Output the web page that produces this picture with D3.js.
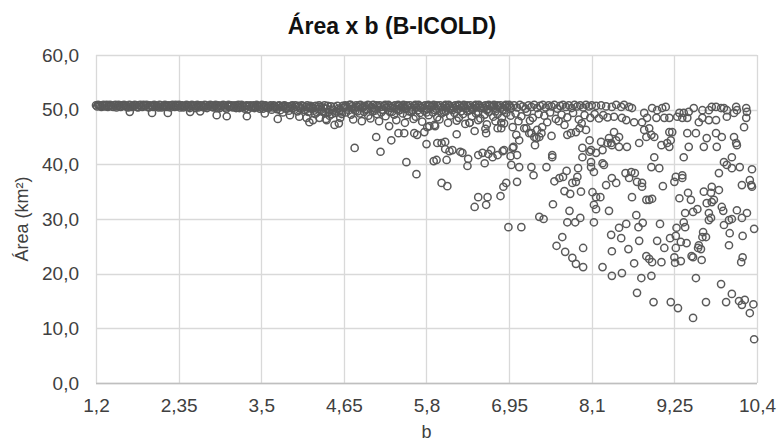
<!DOCTYPE html>
<html>
<head>
<meta charset="utf-8">
<script src="https://cdn.jsdelivr.net/npm/d3@7"></script>
<style>
  html, body { margin: 0; padding: 0; background: #ffffff; }
  svg { display: block; font-family: "Liberation Sans", Arial, sans-serif; }
</style>
</head>
<body>
<svg id="chart" width="779" height="444"></svg>
<script>
// Axis ticks and their labels (comma decimal separator)
const xTickValues = [1.2, 2.35, 3.5, 4.65, 5.8, 6.95, 8.1, 9.25, 10.4];
const xTickLabels = ["1,2", "2,35", "3,5", "4,65", "5,8", "6,95", "8,1", "9,25", "10,4"];
const yTickValues = [0, 10, 20, 30, 40, 50, 60];
const yTickLabels = ["0,0", "10,0", "20,0", "30,0", "40,0", "50,0", "60,0"];

// [b, área (km²)] — low b, area nearly constant around 50–51
const bandLowB = [
  [1.20,50.8],[1.23,50.9],[1.26,50.7],[1.29,50.8],[1.32,50.6],[1.35,50.9],[1.38,50.7],[1.41,50.8],[1.44,50.5],[1.47,50.9],
  [1.50,50.7],[1.53,50.6],[1.56,50.8],[1.59,50.9],[1.62,50.6],[1.65,50.4],[1.68,50.8],[1.71,50.7],[1.74,50.9],[1.77,50.5],
  [1.80,50.8],[1.83,50.6],[1.86,50.9],[1.89,50.7],[1.92,50.5],[1.95,50.8],[1.98,50.6],[2.01,50.9],[2.04,50.7],[2.07,50.4],
  [2.10,50.8],[2.13,50.6],[2.16,50.9],[2.19,50.5],[2.22,50.7],[2.25,50.8],[2.28,50.6],[2.31,50.9],[2.34,50.7],[2.37,50.4],
  [2.40,50.8],[2.43,50.6],[2.46,50.9],[2.49,50.5],[2.52,50.7],[2.55,50.8],[2.58,50.3],[2.61,50.9],[2.64,50.6],[2.67,50.7],
  [2.70,50.4],[2.73,50.8],[2.76,50.6],[2.79,50.9],[2.82,50.5],[2.85,50.7],[2.88,50.3],[2.91,50.8],[2.94,50.6],[2.97,50.9],
  [3.00,50.4],[3.03,50.7],[3.06,50.5],[3.09,50.8],[3.12,50.6],[3.15,50.3],[3.18,50.9],[3.21,50.5],[3.24,50.7],[3.27,50.2],
  [3.30,50.8],[3.33,50.6],[3.36,50.4],[3.39,50.8],[3.42,50.5],[3.45,50.7],[3.48,50.2],[3.51,50.9],[3.54,50.5],[3.57,50.7],
  [3.60,50.3],[3.63,50.8],[3.66,50.4],[3.69,50.6],[3.72,50.1],[3.75,50.8],[3.78,50.5],[3.81,50.7],[3.84,50.2],[3.87,50.6],
  [3.90,50.4],[3.93,50.8],[3.96,50.0],[3.99,50.5],[4.02,50.7],[4.05,50.2],[4.08,50.6],[4.11,49.9],[4.14,50.8],[4.17,50.3],
  [4.20,50.5],[4.23,49.8],[4.26,50.7],[4.29,50.1],[4.32,50.5],[4.35,49.7],[4.38,50.8],[4.41,50.2],[4.44,49.6],[4.47,50.6],
  [4.50,50.0],[4.53,49.4],[4.56,50.7],[4.59,49.9],[4.62,49.2],[4.65,50.4],
  [1.215,50.6],[1.245,50.8],[1.275,50.5],[1.305,50.9],[1.335,50.7],[1.365,50.5],[1.395,50.9],[1.425,50.6],[1.455,50.8],[1.485,50.4],
  [1.515,50.9],[1.545,50.5],[1.575,50.7],[1.605,50.8],[1.635,50.5],[1.665,50.9],[1.695,50.5],[1.725,50.6],[1.755,50.8],[1.785,50.4],
  [1.815,50.9],[1.845,50.5],[1.875,50.7],[1.905,50.9],[1.935,50.4],[1.965,50.7],[1.995,50.5],[2.025,50.8],[2.055,50.6],[2.085,50.9],
  [2.115,50.4],[2.145,50.7],[2.175,50.6],[2.205,50.8],[2.235,50.4],[2.265,50.9],[2.295,50.5],[2.325,50.6],[2.355,50.9],[2.385,50.7],
  [2.415,50.4],[2.445,50.7],[2.475,50.8],[2.505,50.3],[2.535,50.9],[2.565,50.6],[2.595,50.7],[2.625,50.4],[2.655,50.8],[2.685,50.6],
  [2.715,50.9],[2.745,50.3],[2.775,50.7],[2.805,50.8],[2.835,50.4],[2.865,50.9],[2.895,50.6],[2.925,50.3],[2.955,50.7],[2.985,50.8],
  [3.015,50.2],[3.045,50.9],[3.075,50.6],[3.105,50.4],[3.135,50.8],[3.165,50.6],[3.195,50.3],[3.225,50.9],[3.255,50.5],[3.285,50.7],
  [3.315,50.1],[3.345,50.8],[3.375,50.6],[3.405,50.3],[3.435,50.9],[3.465,50.5],[3.495,50.6],[3.525,50.2],[3.555,50.8],[3.585,50.4],
  [3.615,50.6],[3.645,50.0],[3.675,50.8],[3.705,50.4],[3.735,50.7],[3.765,49.9],[3.795,50.6],[3.825,50.8],[3.855,50.3],[3.885,49.8],
  [3.915,50.6],[3.945,50.3],[3.975,50.8],[4.005,49.7],[4.035,50.4],[4.065,50.8],[4.095,50.0],[4.125,50.5],[4.155,49.6],[4.185,50.7],
  [4.215,50.2],[4.245,50.6],[4.275,49.5],[4.305,50.8],[4.335,50.0],[4.365,50.4],[4.395,49.4],[4.425,50.7],[4.455,49.9],[4.485,49.2],
  [4.515,50.5],[4.545,49.7],[4.575,50.2],[4.605,49.5],[4.635,50.7],
  [1.67,49.6],[1.98,49.4],[2.20,49.4],[2.51,49.6],[2.65,49.7],[2.88,49.0],[3.02,48.8],[3.30,48.8],[3.55,49.3],[3.73,48.3],
  [3.80,49.5],[3.90,49.0],[4.03,48.7],[4.13,48.5],[4.17,47.7],[4.22,48.1],[4.25,49.2],[4.31,48.5],[4.40,48.3],[4.41,48.1],
  [4.45,48.9],[4.52,47.2],[4.58,47.5],[4.60,48.5]
];

// Middle b: band starts to widen
const bandMidB = [
  [4.67,50.8],[4.70,50.4],[4.73,50.9],[4.76,50.6],[4.79,50.2],[4.82,50.8],[4.85,50.5],[4.88,50.9],[4.91,50.3],[4.94,50.7],
  [4.97,50.1],[5.00,50.8],[5.03,50.5],[5.06,50.9],[5.09,50.2],[5.12,50.6],[5.15,50.8],[5.18,50.0],[5.21,50.7],[5.24,50.4],
  [5.27,50.9],[5.30,50.3],[5.33,50.6],[5.36,50.8],[5.39,50.1],[5.42,50.7],[5.45,50.4],[5.48,50.9],[5.51,50.2],[5.54,50.6],
  [5.57,50.8],[5.60,50.0],[5.63,50.7],[5.66,50.4],[5.69,50.9],[5.72,50.3],[5.75,50.6],[5.78,50.8],[5.81,50.1],[5.84,50.7],
  [5.87,50.5],[5.90,50.9],[5.93,50.2],[5.96,50.6],[5.99,50.8],[6.02,50.0],[6.05,50.7],[6.08,50.4],[6.11,50.9],[6.14,50.2],
  [6.17,50.6],[6.20,50.8],[6.23,50.1],[6.26,50.7],[6.29,50.4],[6.32,50.9],[6.35,50.2],[6.38,50.6],[6.41,50.8],[6.44,50.0],
  [6.47,50.7],[6.50,50.4],[6.53,50.9],[6.56,50.3],[6.59,50.6],[6.62,50.8],[6.65,50.1],[6.68,50.7],[6.71,50.5],[6.74,50.9],
  [6.77,50.2],[6.80,50.6],[6.83,50.8],[6.86,50.0],[6.89,50.7],[6.92,50.4],[6.95,50.9],[6.98,50.3],
  [4.685,50.6],[4.745,50.9],[4.805,50.5],[4.865,50.8],[4.925,50.6],[4.985,50.9],[5.045,50.3],[5.105,50.8],[5.165,50.5],[5.225,50.9],
  [5.285,50.6],[5.345,50.3],[5.405,50.9],[5.465,50.6],[5.525,50.8],[5.585,50.4],[5.645,50.9],[5.705,50.6],[5.765,50.3],[5.825,50.9],
  [5.885,50.6],[5.945,50.8],[6.005,50.4],[6.065,50.9],[6.125,50.6],[6.185,50.3],[6.245,50.9],[6.305,50.6],[6.365,50.8],[6.425,50.4],
  [6.485,50.9],[6.545,50.6],[6.605,50.3],[6.665,50.9],[6.725,50.6],[6.785,50.8],[6.845,50.4],[6.905,50.9],[6.965,50.6],
  [4.68,49.5],[4.75,49.1],[4.81,49.8],[4.87,49.3],[4.93,49.6],[4.99,48.9],[5.05,49.7],[5.11,49.2],[5.17,49.5],[5.23,48.8],
  [5.29,49.6],[5.35,49.1],[5.41,49.8],[5.47,49.3],[5.53,49.0],[5.59,49.6],[5.65,48.7],[5.71,49.4],[5.77,49.8],[5.83,49.0],
  [5.89,49.5],[5.95,48.6],[6.01,49.3],[6.07,49.7],[6.13,48.9],[6.19,49.4],[6.25,48.5],[6.31,49.2],[6.37,49.7],[6.43,48.8],
  [6.49,49.3],[6.55,48.4],[6.61,49.1],[6.67,49.6],[6.73,48.7],[6.79,49.2],[6.85,48.5],[6.91,49.4],[6.97,48.9],
  [4.72,49.9],[4.84,49.7],[4.96,50.0],[5.08,49.8],[5.20,49.9],[5.32,49.6],[5.44,50.0],[5.56,49.7],[5.68,49.9],[5.80,49.5],
  [5.92,49.9],[6.04,49.6],[6.16,49.9],[6.28,49.7],[6.40,49.9],[6.52,49.6],[6.64,49.9],[6.76,49.7],[6.88,49.9],
  [4.78,48.2],[4.90,47.9],[5.02,48.4],[5.14,47.9],[5.28,47.0],[5.38,48.1],[5.50,47.6],[5.62,48.3],[5.74,47.8],[5.84,47.0],
  [5.92,47.0],[5.98,48.2],[6.10,47.6],[6.22,48.0],[6.34,47.4],[6.40,47.6],[6.52,48.1],[6.64,47.3],[6.76,47.9],[6.88,47.5]
];

// High b: top of the band
const bandHighB = [
  [7.02,50.8],[7.06,50.4],[7.10,50.9],[7.14,50.6],[7.18,50.2],[7.22,50.8],[7.26,50.5],[7.30,50.9],[7.34,50.3],[7.38,50.7],
  [7.42,50.9],[7.46,50.4],[7.50,50.8],[7.54,50.6],[7.58,50.9],[7.62,50.2],[7.66,50.7],[7.70,50.9],[7.74,50.5],[7.78,50.8],
  [7.82,50.3],[7.86,50.9],[7.90,50.6],[7.94,50.8],[7.98,50.4],[8.02,50.9],[8.06,50.6],[8.10,50.8],[8.16,50.7],[8.23,50.8],
  [8.30,50.6],[8.38,50.5],[8.44,50.9],[8.51,50.5],[8.55,50.9],[8.62,50.5],[8.66,50.3],[8.83,49.4],[8.94,50.3],[9.01,49.9],
  [9.08,50.3],[9.13,50.5],[9.32,49.4],[9.38,49.4],[9.45,49.6],[9.52,50.3],[9.64,49.9],[9.73,49.9],[9.77,50.5],[9.83,50.5],
  [9.90,50.3],[9.94,50.3],[9.98,49.9],[10.11,50.5],[10.12,49.9],[10.25,50.3],[10.26,49.6],
  [7.04,49.3],[7.12,48.8],[7.20,49.6],[7.28,48.5],[7.36,49.2],[7.44,48.9],[7.52,49.5],[7.60,48.3],[7.68,49.1],[7.76,48.6],
  [7.84,49.4],[7.92,48.2],[8.00,49.0],[8.08,48.5],[7.08,47.9],[7.24,48.0],[7.48,47.7],[7.64,47.9],[7.72,47.2],[7.96,47.5],
  [8.14,49.2],[8.20,48.4],[8.26,49.0],[8.32,48.6],[8.41,48.7],[8.52,48.5],[8.58,48.1],[8.69,47.7],[8.80,47.7],[8.87,48.5],
  [9.00,48.5],[9.11,48.5],[9.18,48.5],[9.29,48.7],[9.36,48.5],[9.43,48.5],[9.59,47.7],[9.64,48.5],[9.73,48.1],[9.83,48.1],
  [9.98,48.7],[10.08,49.4],[10.25,48.5],[10.22,46.8]
];

// Scattered values below the band
const scatterMidB = [
  [4.80,43.0],[5.10,45.0],[5.16,42.3],[5.31,44.4],[5.41,45.7],[5.49,45.7],[5.52,40.4],[5.63,45.7],[5.67,45.4],[5.66,38.2],
  [5.77,45.9],[5.81,46.8],[5.91,47.2],[5.80,43.7],[5.95,43.9],[6.01,43.9],[6.06,44.1],[6.06,42.8],[5.94,40.8],[5.90,40.6],
  [6.08,40.8],[6.16,42.6],[6.22,45.5],[6.12,42.4],[6.27,42.3],[6.30,42.1],[6.38,41.0],[6.37,39.7],[6.47,46.1],[6.40,47.6],
  [6.62,46.5],[6.63,45.7],[6.52,41.7],[6.58,42.1],[6.61,40.2],[6.66,41.9],[6.72,41.3],[6.79,41.7],[6.86,42.4],[6.97,41.5],
  [7.06,41.7],[7.01,43.2],[6.98,39.9],[6.84,46.6],[6.79,46.6],[6.84,47.6],[7.00,46.8],[7.05,45.4],[7.09,44.4],[6.88,42.6],
  [6.70,42.6],[7.00,43.0],
  [6.01,36.6],[6.09,36.0],[6.52,34.0],[6.65,34.0],[6.47,32.2],[6.63,32.6],[6.83,34.2],[6.87,35.9],[6.91,36.6],[7.06,36.8],
  [6.94,28.5],[7.12,28.5]
];

const scatterHighB = [
  [7.09,39.5],[7.26,39.5],[7.29,38.0],[7.47,39.5],[7.55,41.3],[7.54,45.2],[7.33,44.8],[7.31,43.5],[7.34,46.3],[7.19,46.6],
  [7.16,46.6],[7.26,45.7],[7.30,45.0],[7.41,46.8],[7.23,45.7],[7.37,45.0],[7.40,45.7],[7.55,41.7],
  [7.76,45.4],[7.81,45.7],[7.88,45.9],[7.93,46.6],[8.02,46.3],[8.07,44.4],[8.23,44.1],[8.34,44.8],[8.37,43.9],[8.09,42.6],
  [7.97,43.0],[8.07,42.3],[7.97,41.3],[8.09,40.4],[8.09,39.5],[8.13,38.6],[8.25,40.2],[8.25,42.6],[8.32,43.9],[8.16,42.1],
  [7.37,30.4],[7.43,30.0],[7.56,32.7],
  [7.58,36.9],[7.65,37.5],[7.70,37.7],[7.75,38.8],[7.83,36.6],[7.88,36.8],[7.91,39.3],[7.90,37.7],
  [7.72,35.1],[7.80,34.6],[7.95,35.0],[7.79,31.5],[7.76,29.4],[7.87,29.4],[7.94,30.2],
  [7.69,26.7],[7.61,25.1],[7.73,24.0],[7.83,22.9],[7.88,21.8],[7.98,24.7],[7.98,21.2],
  [8.11,34.9],[8.16,34.0],[8.22,34.0],[8.13,32.6],[8.16,31.8],[8.34,31.5],[8.13,29.4],
  [8.41,45.9],[8.48,45.0],[8.44,44.4],[8.38,43.5],[8.48,43.2],[8.59,43.2],[8.76,43.9],[8.83,46.3],[8.86,45.0],[8.93,45.4],
  [8.90,46.6],[8.97,45.0],[9.07,43.5],[9.15,43.9],[9.18,45.9],[9.22,45.9],[9.20,44.4],[9.18,43.2],[8.97,41.3],[9.43,45.7],
  [9.55,45.7],[9.45,43.2],[9.38,41.3],[9.66,43.2],[9.70,44.8],[9.83,45.7],[9.91,45.0],[9.84,43.2],[10.08,45.0],[10.11,43.9],
  [10.12,43.5],[10.05,41.3],[9.94,40.4],
  [8.27,39.9],[8.57,38.4],[8.65,38.6],[8.70,38.4],[8.62,37.5],[8.38,37.5],[8.30,36.2],[8.44,36.6],[8.73,36.8],[8.80,36.6],
  [8.80,35.9],[8.93,39.5],[9.04,39.3],[8.66,34.0],[8.86,33.5],[8.90,33.5],[8.94,33.7],[9.09,36.0],
  [9.27,37.7],[9.36,38.0],[9.36,37.5],[9.25,36.8],[9.32,33.8],[9.44,34.8],[9.48,33.5],
  [9.66,35.0],[9.77,35.9],[9.76,34.8],[9.87,35.3],[9.80,33.5],
  [9.87,38.4],[9.98,39.9],[10.05,39.3],[10.16,39.5],[10.33,39.1],[10.19,36.2],[10.30,37.1],[10.32,36.2],[10.33,35.9],
  [9.70,32.9],[9.77,33.1],[9.73,31.1],[9.76,30.2],[9.73,29.8],[9.91,32.2],[9.93,31.5],[10.12,31.6],[10.26,31.1],
  [9.40,31.1],[9.51,31.3],[9.57,31.8],[10.01,29.8],[10.05,30.0],[10.19,30.2],[10.36,28.2],
  [9.94,28.9],[10.02,27.4],[10.20,26.9],[10.01,25.2],
  [9.65,27.6],[9.64,26.7],[9.69,26.7],[9.59,25.2],[9.58,24.7],[9.62,24.5],[9.63,22.5],
  [9.51,23.0],[9.49,23.2],[10.18,22.1],[10.20,23.0],
  [9.38,29.4],[9.40,28.5],[9.28,28.4],[9.19,26.5],[9.27,26.9],[9.34,25.8],[9.42,25.6],[9.27,24.7],[9.11,24.7],[9.01,26.0],
  [8.76,26.0],[8.61,24.5],[8.38,24.1],[8.37,27.1],[8.51,26.5],[8.48,28.4],[8.58,29.1],[8.72,30.7],[8.75,28.5],[8.81,29.3],
  [9.05,29.1],
  [8.86,23.2],[8.90,22.7],[8.94,22.1],[9.07,22.1],[9.25,23.0],[9.26,22.0],[9.34,22.3],[8.69,21.9],[8.25,21.2],
  [8.38,19.6],[8.52,20.1],[8.79,19.2],[8.93,19.6],[8.73,16.5],[8.96,14.8],[9.20,14.8],[9.30,13.7],[9.51,11.9],[9.55,19.2],
  [9.69,14.8],[9.90,18.1],[9.97,14.8],[10.05,16.3],[10.15,15.0],[10.19,14.3],[10.23,15.2],[10.35,14.4],[10.30,12.8],[10.36,8.0]
];

const points = [].concat(bandLowB, bandMidB, bandHighB, scatterMidB, scatterHighB);

const svg = d3.select("#chart");
const plot = { left: 96, right: 757, top: 55, bottom: 383 };

const x = d3.scaleLinear().domain([1.2, 10.4]).range([plot.left, plot.right]);
const y = d3.scaleLinear().domain([0, 60]).range([plot.bottom, plot.top]);

// Gridlines
const grid = svg.append("g").attr("class", "grid");
grid.selectAll("line.v").data(xTickValues).join("line")
  .attr("class", "v")
  .attr("x1", d => Math.round(x(d)) + 0.5).attr("x2", d => Math.round(x(d)) + 0.5)
  .attr("y1", plot.top).attr("y2", plot.bottom)
  .attr("stroke", "#d9d9d9").attr("stroke-width", 1.3);
grid.selectAll("line.h").data(yTickValues).join("line")
  .attr("class", "h")
  .attr("x1", plot.left).attr("x2", plot.right)
  .attr("y1", d => Math.round(y(d)) + 0.5).attr("y2", d => Math.round(y(d)) + 0.5)
  .attr("stroke", "#d9d9d9").attr("stroke-width", 1.3);

// Axes (labels only; lines come from the grid)
const xAxis = d3.axisBottom(x)
  .tickValues(xTickValues)
  .tickFormat((d, i) => xTickLabels[i])
  .tickSize(0).tickPadding(16);
const yAxis = d3.axisLeft(y)
  .tickValues(yTickValues)
  .tickFormat((d, i) => yTickLabels[i])
  .tickSize(0).tickPadding(17);

const gx = svg.append("g").attr("transform", `translate(0,${plot.bottom})`).call(xAxis);
const gy = svg.append("g").attr("transform", `translate(${plot.left},0)`).call(yAxis);
[gx, gy].forEach(g => {
  g.select(".domain").remove();
  g.selectAll("text")
    .attr("fill", "#404040")
    .style("font-size", "19px")
    .style("font-family", "'Liberation Sans', Arial, sans-serif");
});

// Points
svg.append("g").selectAll("circle").data(points).join("circle")
  .attr("cx", d => x(d[0]))
  .attr("cy", d => y(d[1]))
  .attr("r", 3.6)
  .attr("fill", "none")
  .attr("stroke", "#5a5a5a")
  .attr("stroke-width", 1.5);

// Category axis baseline
svg.append("line")
  .attr("x1", plot.left).attr("x2", plot.right)
  .attr("y1", plot.bottom + 0.5).attr("y2", plot.bottom + 0.5)
  .attr("stroke", "#bfbfbf").attr("stroke-width", 1.5);

// Titles
svg.append("text")
  .attr("x", 392).attr("y", 34)
  .attr("text-anchor", "middle")
  .attr("fill", "#111111")
  .style("font-size", "23px").style("font-weight", "bold")
  .text("Área x b (B-ICOLD)");

svg.append("text")
  .attr("x", (plot.left + plot.right) / 2).attr("y", 438)
  .attr("text-anchor", "middle")
  .attr("fill", "#404040")
  .style("font-size", "18px")
  .text("b");

svg.append("text")
  .attr("transform", `translate(28,${(plot.top + plot.bottom) / 2}) rotate(-90)`)
  .attr("text-anchor", "middle")
  .attr("fill", "#404040")
  .style("font-size", "18px")
  .text("Área (km²)");
</script>
</body>
</html>
